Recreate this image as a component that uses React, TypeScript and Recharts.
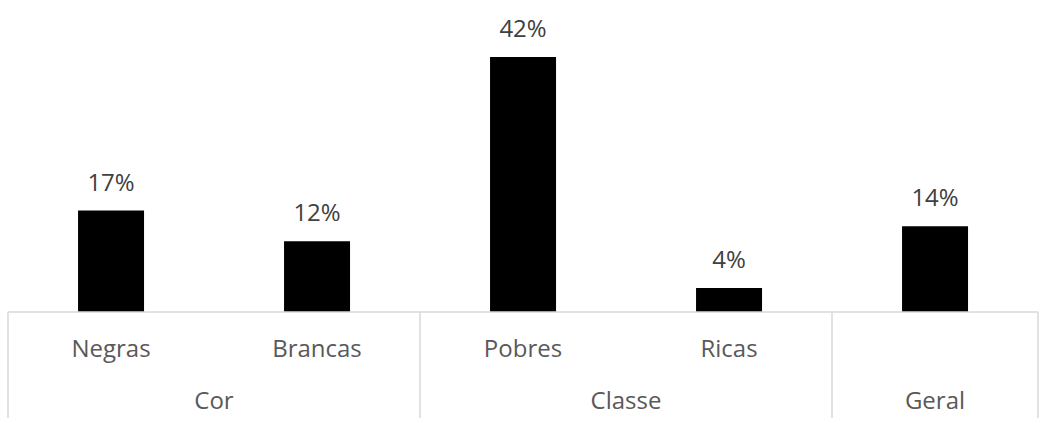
import React from "react";
import { BarChart, Bar, XAxis, YAxis, LabelList } from "recharts";

const categories = ["Negras", "Brancas", "Pobres", "Ricas", ""];
const groups = ["Cor", "Cor", "Classe", "Classe", "Geral"];
const values = [16.9, 11.8, 42.5, 4.0, 14.3];
const valueLabels = ["17%", "12%", "42%", "4%", "14%"];

const data = categories.map((c, i) => ({
  name: c,
  group: groups[i],
  value: values[i],
  label: valueLabels[i],
  key: i,
}));

const FONT = "'Open Sans', sans-serif";
const AXIS_GREY = "#d9d9d9";

const TwoLevelTick = (props: any) => {
  const { x, y, payload } = props;
  const i: number = payload?.index ?? props.index ?? 0;
  const half: number = payload?.offset ?? 103;
  const row = data[i];
  const els: React.ReactNode[] = [];
  const isGroupStart = i === 0 || data[i - 1].group !== row.group;
  if (isGroupStart) {
    let n = 1;
    while (i + n < data.length && data[i + n].group === row.group) n++;
    const left = x - half;
    const center = left + n * half;
    els.push(
      <line key="sep" x1={left} x2={left} y1={y} y2={y + 106} stroke={AXIS_GREY} strokeWidth={1.5} />
    );
    els.push(
      <text key="g" x={center} y={y + 97} textAnchor="middle" fill="#595959" fontSize={24} fontFamily={FONT}>
        {row.group}
      </text>
    );
  }
  if (i === data.length - 1) {
    els.push(
      <line key="end" x1={x + half} x2={x + half} y1={y} y2={y + 106} stroke={AXIS_GREY} strokeWidth={1.5} />
    );
  }
  els.push(
    <text key="c" x={x} y={y + 45} textAnchor="middle" fill="#595959" fontSize={24} fontFamily={FONT}>
      {row.name}
    </text>
  );
  return <g>{els}</g>;
};

export default function App() {
  return (
    <div style={{ position: "absolute", left: 0, top: 0, width: 1046, height: 427, background: "#fff" }}>
      <BarChart
        width={1046}
        height={427}
        data={data}
        margin={{ top: 12, right: 8, bottom: 0, left: 8 }}
        barCategoryGap="34%"
      >
        <XAxis
          dataKey="key"
          type="category"
          interval={0}
          tickLine={false}
          tickSize={0}
          tickMargin={0}
          height={115}
          axisLine={{ stroke: AXIS_GREY, strokeWidth: 1.5 }}
          tick={<TwoLevelTick />}
        />
        <YAxis hide domain={[0, 50]} />
        <Bar dataKey="value" fill="#000000" isAnimationActive={false}>
          <LabelList
            dataKey="label"
            position="top"
            offset={20}
            fill="#404040"
            fontSize={24}
            fontFamily={FONT}
          />
        </Bar>
      </BarChart>
    </div>
  );
}
